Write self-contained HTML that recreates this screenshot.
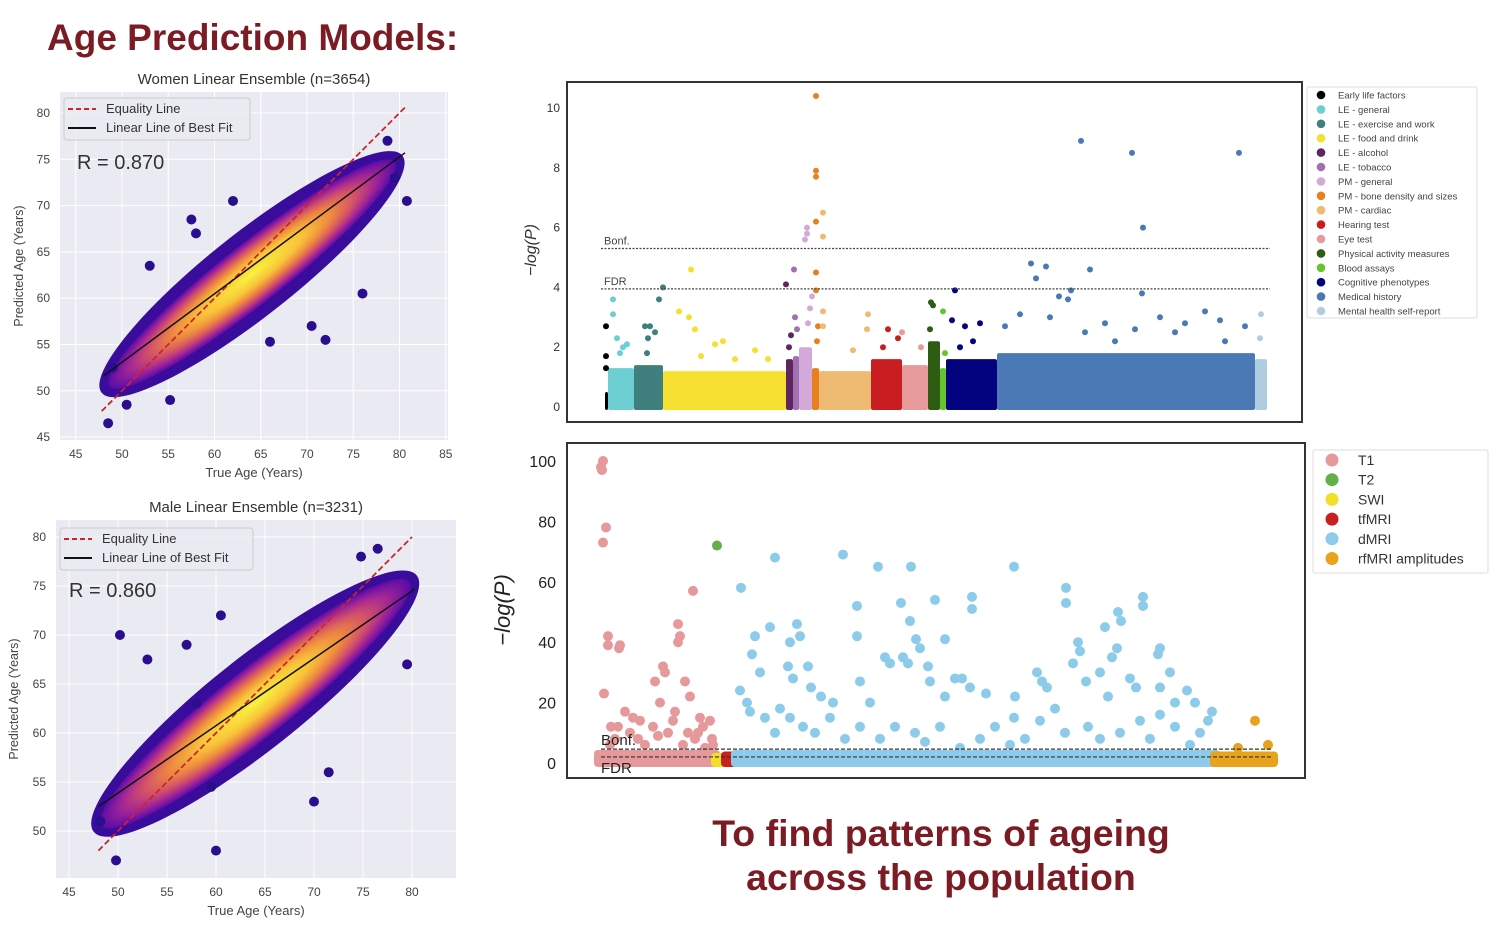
<!DOCTYPE html>
<html><head><meta charset="utf-8">
<style>
html,body{margin:0;padding:0;background:#fff;}
body{width:1497px;height:929px;overflow:hidden;font-family:"Liberation Sans",sans-serif;}
svg text{font-family:"Liberation Sans","DejaVu Sans",sans-serif;}
</style></head>
<body>
<svg id="root" width="1497" height="929" viewBox="0 0 1497 929" xmlns="http://www.w3.org/2000/svg">
<defs>
<radialGradient id="heat" cx="0.5" cy="0.5" r="0.5">
<stop offset="0" stop-color="#f8f23c"/>
<stop offset="0.35" stop-color="#f9c23a"/>
<stop offset="0.55" stop-color="#ee8a3f"/>
<stop offset="0.72" stop-color="#d2506a"/>
<stop offset="0.86" stop-color="#a22596"/>
<stop offset="1" stop-color="#5a0ba8"/>
</radialGradient>
</defs>
<text x="47" y="50" font-size="37" font-weight="bold" fill="#7b1c24">Age Prediction Models:</text>
<text x="941" y="846" font-size="37.5" font-weight="bold" fill="#7b1c24" text-anchor="middle">To find patterns of ageing</text>
<text x="941" y="890" font-size="37.5" font-weight="bold" fill="#7b1c24" text-anchor="middle">across the population</text>
<g id="g-women"></g>
<g id="g-men"></g>
<g id="g-top"></g>
<g id="g-bot"></g>
</svg>
<script>
// ---------- scatter data ----------
const womenTicksX = [45,50,55,60,65,70,75,80,85];
const womenTicksY = [45,50,55,60,65,70,75,80];
const womenEquality = [47.8, 80.6];
const womenFitAge = [48, 80.6];
const womenFitPred = [51.6, 75.7];
const womenCloudAge = [48.3, 79.8];
const womenCloudPred = [50.2, 75];
const womenOutAge = [48.5,53,80.8,79.5,72,58,76,50.5,62,55.2,70.5,78.7,49,57.5,66];
const womenOutPred = [46.5,63.5,70.5,73,55.5,67,60.5,48.5,70.5,49,57,77,52.5,68.5,55.3];
const maleTicksX = [45,50,55,60,65,70,75,80];
const maleTicksY = [50,55,60,65,70,75,80];
const maleEquality = [48, 80];
const maleFitAge = [48, 80.3];
const maleFitPred = [52.5, 74.7];
const maleCloudAge = [48, 80];
const maleCloudPred = [50.3, 75.7];
const maleOutAge = [49.8,60,48.2,58,70,60.5,50.2,76.5,71.5,74.8,79.5,59.5,53,57];
const maleOutPred = [47,48,51,63,53,72,70,78.8,56,78,67,54.5,67.5,69];

// ---------- top manhattan data ----------
const topCats = ["Early life factors","LE - general","LE - exercise and work","LE - food and drink","LE - alcohol","LE - tobacco","PM - general","PM - bone density and sizes","PM - cardiac","Hearing test","Eye test","Physical activity measures","Blood assays","Cognitive phenotypes","Medical history","Mental health self-report"];
const topColors = ["#000000","#6dcfd1","#3f7f7d","#f5df30","#5e2560","#a070b0","#d4a8d8","#e6811e","#efbb73","#c81e22","#e79a9c","#2e5c12","#66c430","#03027f","#4a79b5","#b0cde0"];
const topStarts = [0,3,29,58,181,188,194,207,214,266,297,323,335,341,392,650,662];
const topBulk = [0.5,1.3,1.4,1.2,1.6,1.7,2.0,1.3,1.2,1.6,1.4,2.2,1.3,1.6,1.8,1.6];
const topPtCat = [0,0,0,1,1,1,1,1,1,2,2,2,2,2,2,2,3,3,3,3,3,3,3,3,3,3,4,4,4,5,5,5,6,6,6,6,6,6,7,7,7,7,7,7,7,7,8,8,8,8,8,8,8,9,9,9,10,10,11,11,11,12,12,13,13,13,13,13,13,14,14,14,14,14,14,14,14,14,14,14,14,14,14,14,14,14,14,14,14,14,14,14,14,14,14,15,15];
const topPtIdx = [1,1,1,8,8,12,18,22,15,58,54,40,45,43,50,42,86,84,74,90,110,118,150,163,96,130,181,184,186,189,190,192,202,202,200,207,205,203,211,211,211,211,211,211,213,212,218,218,218,218,263,262,248,283,293,278,297,316,326,328,325,338,340,350,347,360,368,375,355,476,527,634,538,426,441,485,431,466,454,463,537,415,400,445,480,500,555,570,600,615,580,640,510,530,620,656,655];
const topPtVal = [2.7,1.7,1.3,3.6,3.1,2.3,2.0,2.1,1.8,4.0,3.6,2.7,2.7,2.3,2.5,1.8,4.6,3.0,3.2,2.6,2.1,2.2,1.9,1.6,1.7,1.6,4.1,2.0,2.4,4.6,3.0,2.6,6.0,5.8,5.6,3.7,3.3,2.8,10.4,7.9,7.7,6.2,4.5,3.9,2.7,2.2,6.5,5.7,3.2,2.7,3.1,2.6,1.9,2.6,2.3,2.0,2.5,2.0,3.5,3.4,2.6,3.2,1.8,3.9,2.9,2.7,2.2,2.8,2.0,8.9,8.5,8.5,6.0,4.8,4.7,4.6,4.3,3.9,3.7,3.6,3.8,3.1,2.7,3.0,2.5,2.8,3.0,2.5,3.2,2.9,2.8,2.7,2.2,2.6,2.2,3.1,2.3];
const topTicks = [0,2,4,6,8,10];
const topBonf = 5.3, topFDR = 3.95;

// ---------- bottom manhattan data ----------
const botCats = ["T1","T2","SWI","tfMRI","dMRI","rfMRI amplitudes"];
const botColors = ["#e6999b","#63b04a","#f2df2a","#c9201f","#8ccbea","#e8a21b"];
const botBulkCat = [0,2,3,4,5];
const botBulkStart = [0,117,127,137,616];
const botBulkEnd = [118,128,137,618,676];
const botBulkVal = [3,2,2.5,3,2.5];
const botPtCat = [0,0,0,0,0,0,0,0,0,0,0,0,0,0,0,0,0,0,0,0,0,0,0,0,0,0,0,0,0,0,0,0,0,0,0,0,1,5,5,5,0,0,0,0,0,0,0,0,0,0,0,0];
const botPtIdx = [5,3,4,8,5,10,10,21,22,6,80,82,80,95,65,67,57,87,92,13,27,42,62,77,102,112,17,32,47,70,97,107,114,22,52,92,119,657,640,670,20,35,55,75,90,105,12,40,60,85,100,115];
const botPtVal = [100,98,97,78,73,42,39,38,39,23,46,42,40,57,32,30,27,27,22,12,17,14,20,17,15,14,8,10,6,10,8,5,8,3,2,2,72,14,5,6,12,15,12,14,10,12,6,8,9,6,10,6];
const dIdx = [143,177,245,280,313,416,468,468,545,545,520,523,259,303,337,374,374,172,199,202,312,318,322,347,480,507,519,514,562,560,259,192,154,157,162,190,195,210,213,223,235,262,287,292,305,310,330,332,347,357,364,372,388,417,416,439,444,449,475,482,488,502,510,532,538,562,572,577,589,597,614,142,149,152,167,177,182,192,205,217,232,247,262,272,282,297,317,327,342,362,382,397,412,427,442,457,467,490,502,522,542,552,562,577,592,602,610];
const dVal = [58,68,69,65,65,65,58,53,55,52,50,47,52,53,54,55,51,45,46,42,47,41,38,41,40,45,38,35,38,36,42,40,36,42,30,32,28,32,25,22,20,27,35,33,35,33,32,27,22,28,28,25,23,22,15,30,27,25,33,37,27,30,22,28,25,25,30,20,24,20,17,24,20,17,15,10,18,15,12,10,15,8,12,20,8,12,10,7,12,5,8,12,6,8,14,18,10,12,8,10,14,8,16,12,6,10,14];
const botTicks = [0,20,40,60,80,100];
const botBonf = 4.6, botFDR = 2.0;

// ---------- helpers ----------
const NS = "http://www.w3.org/2000/svg";
function mk(parent, tag, attrs, txt){
  const e = document.createElementNS(NS, tag);
  for (const k in attrs) e.setAttribute(k, attrs[k]);
  if (txt !== undefined) e.textContent = txt;
  parent.appendChild(e);
  return e;
}

function scatter(g, cfg){
  const sx = v => cfg.x0 + (v - cfg.vx0) * cfg.kx;
  const sy = v => cfg.y0 - (v - cfg.vy0) * cfg.ky;
  const bg = mk(g,'rect',{x:cfg.bx,y:cfg.by,width:cfg.bw,height:cfg.bh,fill:'#eaeaf2'});
  
  
  cfg.ticksX.forEach(t=>{
    mk(g,'line',{x1:sx(t),x2:sx(t),y1:cfg.by,y2:cfg.by+cfg.bh,stroke:'#fff','stroke-width':1});
    const tl = mk(g,'text',{x:sx(t),y:cfg.by+cfg.bh+18,'font-size':12,fill:'#444','text-anchor':'middle'},String(t));
    
    
  });
  cfg.ticksY.forEach(t=>{
    mk(g,'line',{x1:cfg.bx,x2:cfg.bx+cfg.bw,y1:sy(t),y2:sy(t),stroke:'#fff','stroke-width':1});
    const tl = mk(g,'text',{x:cfg.bx-10,y:sy(t)+4,'font-size':12,fill:'#444','text-anchor':'end'},String(t));
    
    
  });
  const ax0=sx(cfg.cloudAge[0]), ay0=sy(cfg.cloudPred[0]), ax1=sx(cfg.cloudAge[1]), ay1=sy(cfg.cloudPred[1]);
  const cx=(ax0+ax1)/2, cy=(ay0+ay1)/2, len=Math.hypot(ax1-ax0,ay1-ay0), ang=Math.atan2(ay1-ay0,ax1-ax0)*180/Math.PI;
  const outer = mk(g,'ellipse',{cx:cx,cy:cy,rx:len/2+6,ry:cfg.ry+12,fill:'#3a0c9c',transform:`rotate(${ang} ${cx} ${cy})`});
  
  
  const inner = mk(g,'ellipse',{cx:cx,cy:cy,rx:len/2-4,ry:cfg.ry,fill:'url(#heat)',transform:`rotate(${ang} ${cx} ${cy})`});
  
  
  cfg.outA.forEach((a,i)=>{
    const c = mk(g,'circle',{cx:sx(a),cy:sy(cfg.outP[i]),r:5,fill:'#2a0e8e'});
    
    
  });
  const eq = mk(g,'line',{x1:sx(cfg.eq[0]),y1:sy(cfg.eq[0]),x2:sx(cfg.eq[1]),y2:sy(cfg.eq[1]),stroke:'#c9252b','stroke-width':1.8,'stroke-dasharray':cfg.dash});
  
  
  const fit = mk(g,'line',{x1:sx(cfg.fitA[0]),y1:sy(cfg.fitP[0]),x2:sx(cfg.fitA[1]),y2:sy(cfg.fitP[1]),stroke:'#111','stroke-width':1.5});
  
  
  const lg = mk(g,'g',{});
  
  
  mk(lg,'rect',{x:cfg.lx,y:cfg.ly,width:cfg.lw,height:42,rx:3,fill:'#eaeaf2','fill-opacity':0.85,stroke:'#ccc'});
  mk(lg,'line',{x1:cfg.lx+4,x2:cfg.lx+32,y1:cfg.ly+11,y2:cfg.ly+11,stroke:'#c9252b','stroke-width':2,'stroke-dasharray':'5,3'});
  const l1 = mk(lg,'text',{x:cfg.lx+42,y:cfg.ly+15,'font-size':13,fill:'#333'},'Equality Line');
  
  
  mk(lg,'line',{x1:cfg.lx+4,x2:cfg.lx+32,y1:cfg.ly+30,y2:cfg.ly+30,stroke:'#111','stroke-width':2});
  const l2 = mk(lg,'text',{x:cfg.lx+42,y:cfg.ly+34,'font-size':13,fill:'#333'},'Linear Line of Best Fit');
  
  
  const rt = mk(g,'text',{x:cfg.rx,y:cfg.ryT,'font-size':20,fill:'#333'},cfg.rtext);
  
  
  const tt = mk(g,'text',{x:cfg.bx+cfg.bw/2,y:cfg.by-8,'font-size':15,fill:'#333','text-anchor':'middle'},cfg.title);
  
  
  const xt = mk(g,'text',{x:cfg.bx+cfg.bw/2,y:cfg.by+cfg.bh+37,'font-size':13,fill:'#444','text-anchor':'middle'},'True Age (Years)');
  
  
  const yt = mk(g,'text',{x:0,y:0,'font-size':12.5,fill:'#444','text-anchor':'middle',transform:`translate(${cfg.ytx},${cfg.by+cfg.bh/2}) rotate(-90)`},'Predicted Age (Years)');
  
  
}

scatter(document.getElementById('g-women'),{
  bx:60,by:92,bw:388,bh:348,x0:122,vx0:50,kx:9.25,y0:113,vy0:80,ky:9.26,
  ticksX:womenTicksX,ticksY:womenTicksY,cloudAge:womenCloudAge,cloudPred:womenCloudPred,ry:30,
  outA:womenOutAge,outP:womenOutPred,eq:womenEquality,fitA:womenFitAge,fitP:womenFitPred,dash:'6,3',
  lx:64,ly:98,lw:186,rx:77,ryT:169,rtext:'R = 0.870',title:'Women Linear Ensemble (n=3654)',ytx:23
});
scatter(document.getElementById('g-men'),{
  bx:56,by:520,bw:400,bh:358,x0:118,vx0:50,kx:9.8,y0:537,vy0:80,ky:9.8,
  ticksX:maleTicksX,ticksY:maleTicksY,cloudAge:maleCloudAge,cloudPred:maleCloudPred,ry:34,
  outA:maleOutAge,outP:maleOutPred,eq:maleEquality,fitA:maleFitAge,fitP:maleFitPred,dash:'6,3',
  lx:60,ly:528,lw:193,rx:69,ryT:597,rtext:'R = 0.860',title:'Male Linear Ensemble (n=3231)',ytx:18
});

(function(){
  const g = document.getElementById('g-top');
  const sx = i => 605 + i;
  const sy = v => 407 - v * 29.9;
  const fr = mk(g,'rect',{x:567,y:82,width:735,height:340,fill:'#fff',stroke:'#333','stroke-width':2});
  
  
  topTicks.forEach(t=>{
    const tl = mk(g,'text',{x:560,y:sy(t)+4,'font-size':12,fill:'#333','text-anchor':'end'},String(t));
    
    
  });
  const yt = mk(g,'text',{x:0,y:0,'font-size':16,fill:'#333','text-anchor':'middle','font-style':'italic',transform:'translate(536,250) rotate(-90)'},'−log(P)');
  
  
  topBulk.forEach((h,c)=>{
    const x0 = sx(topStarts[c]), x1 = sx(topStarts[c+1]);
    const b = mk(g,'rect',{x:x0,y:sy(h),width:Math.max(x1-x0,3),height:sy(0)-sy(h)+3,rx:2,fill:topColors[c]});
    
    
  });
  topPtVal.forEach((v,i)=>{
    const p = mk(g,'circle',{cx:sx(topPtIdx[i]),cy:sy(v),r:3,fill:topColors[topPtCat[i]]});
    
    
  });
  [[topBonf,'Bonf.'],[topFDR,'FDR']].forEach(([v,l])=>{
    const ln = mk(g,'line',{x1:601,x2:1270,y1:sy(v),y2:sy(v),stroke:'#444','stroke-width':1.2,'stroke-dasharray':'2,1.5'});
    
    
    const lt = mk(g,'text',{x:604,y:sy(v)-4,'font-size':11,fill:'#444'},l);
    
    
  });
  const lg = mk(g,'g',{});
  
  
  mk(lg,'rect',{x:1307,y:87,width:170,height:231,rx:2,fill:'#fff',stroke:'#ddd'});
  topCats.forEach((n,i)=>{
    const y = 95 + i*14.4;
    mk(lg,'circle',{cx:1321,cy:y,r:4.3,fill:topColors[i]});
    const t = mk(lg,'text',{x:1338,y:y+3.5,'font-size':9.5,fill:'#444'},n);
    
    
  });
})();

(function(){
  const g = document.getElementById('g-bot');
  const sx = i => 598 + i;
  const sy = v => 763 - v * 3.02;
  const fr = mk(g,'rect',{x:567,y:443,width:738,height:335,fill:'#fff',stroke:'#333','stroke-width':2});
  
  
  botTicks.forEach(t=>{
    const tl = mk(g,'text',{x:556,y:sy(t)+6,'font-size':16,fill:'#222','text-anchor':'end'},String(t));
    
    
  });
  const yt = mk(g,'text',{x:0,y:0,'font-size':22,fill:'#222','text-anchor':'middle','font-style':'italic',transform:'translate(510,610) rotate(-90)'},'−log(P)');
  
  
  botBulkVal.forEach((v,i)=>{
    const b = mk(g,'rect',{x:sx(botBulkStart[i])-4,y:sy(v)-4,width:botBulkEnd[i]-botBulkStart[i]+8,height:sy(0)-sy(v)+8,rx:4,fill:botColors[botBulkCat[i]]});
    
    
  });
  botPtVal.forEach((v,i)=>{
    const p = mk(g,'circle',{cx:sx(botPtIdx[i]),cy:sy(v),r:5,fill:botColors[botPtCat[i]]});
    
    
  });
  dVal.forEach((v,i)=>{
    const p = mk(g,'circle',{cx:sx(dIdx[i]),cy:sy(v),r:5,fill:botColors[4]});
    
    
  });
  [[botBonf,'Bonf.',-4],[botFDR,'FDR',16]].forEach(([v,l,o])=>{
    const ln = mk(g,'line',{x1:601,x2:1272,y1:sy(v),y2:sy(v),stroke:'#333','stroke-width':1.2,'stroke-dasharray':'4,2'});
    
    
    const lt = mk(g,'text',{x:601,y:sy(v)+o,'font-size':15,fill:'#222'},l);
    
    
  });
  const lg = mk(g,'g',{});
  
  
  mk(lg,'rect',{x:1313,y:450,width:175,height:123,rx:2,fill:'#fff',stroke:'#ddd'});
  botCats.forEach((n,i)=>{
    const y = 460 + i*19.7;
    mk(lg,'circle',{cx:1332,cy:y,r:6.5,fill:botColors[i]});
    const t = mk(lg,'text',{x:1358,y:y+5,'font-size':14,fill:'#333'},n);
    
    
  });
})();
</script>
</body></html>
